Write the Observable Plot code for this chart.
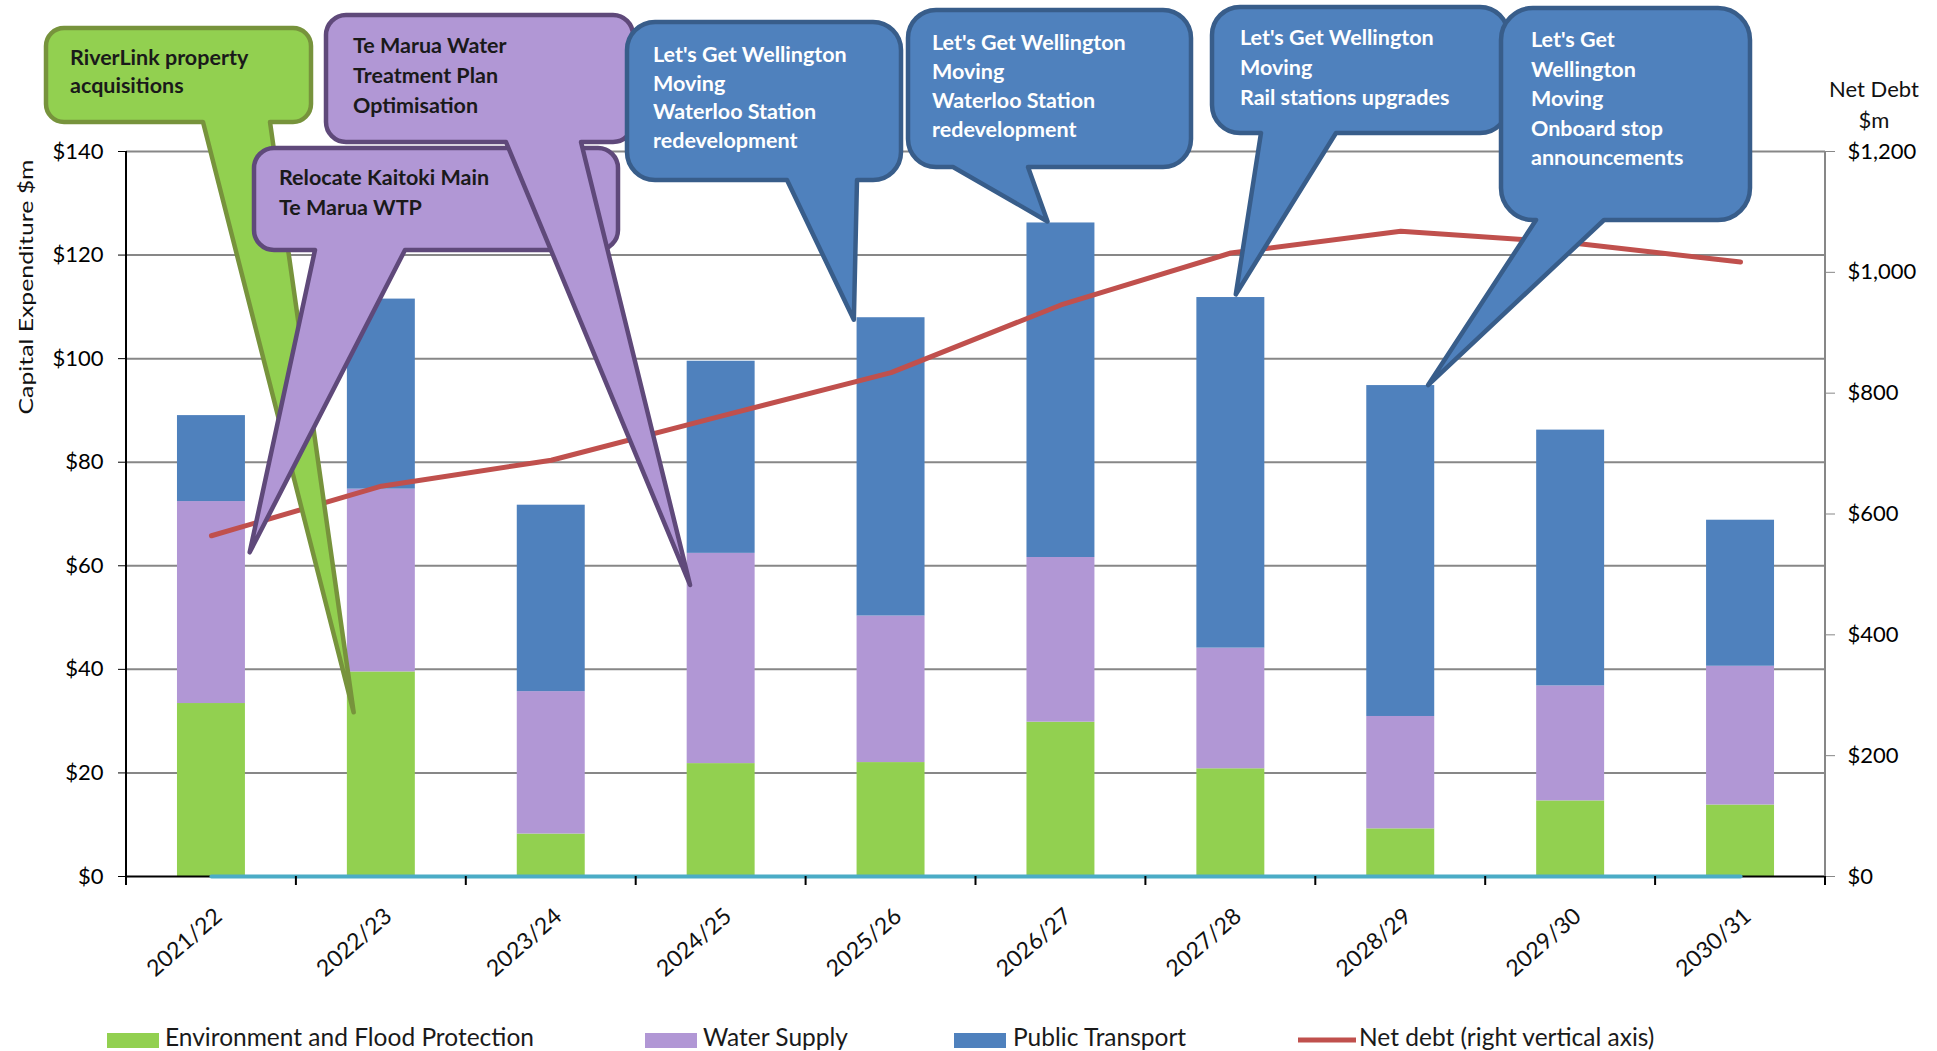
<!DOCTYPE html>
<html>
<head>
<meta charset="utf-8">
<script src="https://cdn.jsdelivr.net/npm/d3@7"></script>
<script src="https://cdn.jsdelivr.net/npm/@observablehq/plot@0.6"></script>
<style>
  html, body { margin: 0; padding: 0; background: #fff; }
  #wrap { position: relative; width: 1937px; height: 1051px; overflow: hidden; }
  #wrap svg { display: block; }
</style>
</head>
<body>
<div id="wrap"></div>
<script>
// ---------- data ----------
const categories = ["2021/22", "2022/23", "2023/24", "2024/25", "2025/26", "2026/27", "2027/28", "2028/29", "2029/30", "2030/31"];
const environment = [33.4, 39.5, 8.2, 21.8, 22.0, 29.8, 20.8, 9.2, 14.6, 13.8];
const waterSupply = [39.0, 35.3, 27.5, 40.6, 28.3, 31.8, 23.3, 21.7, 22.2, 26.8];
const publicTransport = [16.6, 36.7, 36.0, 37.1, 57.6, 64.6, 67.7, 63.9, 49.4, 28.2];
const netDebt = [564, 646, 689, 762, 834, 946, 1032, 1068, 1049, 1017];
const zeroSeries = [0, 0, 0, 0, 0, 0, 0, 0, 0, 0];
const leftTicks = [0, 20, 40, 60, 80, 100, 120, 140];
const debtTicks = [0, 200, 400, 600, 800, 1000, 1200];
const seriesNames = ["Environment and Flood Protection", "Water Supply", "Public Transport"];
const lineName = "Net debt (right vertical axis)";
const yTitle = "Capital Expenditure $m";
const y2Title = ["Net Debt", "$m"];

// callout texts and the data points they point at
const calloutTexts = [
  ["RiverLink property", "acquisitions"],
  ["Relocate Kaitoki Main", "Te Marua WTP"],
  ["Te Marua Water", "Treatment Plan", "Optimisation"],
  ["Let's Get Wellington", "Moving", "Waterloo Station", "redevelopment"],
  ["Let's Get Wellington", "Moving", "Waterloo Station", "redevelopment"],
  ["Let's Get Wellington", "Moving", "Rail stations upgrades"],
  ["Let's Get", "Wellington", "Moving", "Onboard stop", "announcements"]
];
const calloutYears = ["2022/23", "2021/22", "2024/25", "2025/26", "2026/27", "2027/28", "2028/29"];
const calloutValues = [31.6, 62.5, 56.2, 107.4, 126.4, 112.3, 94.8];

// ---------- styles / layout ----------
const seriesColors = ["#92D050", "#B197D5", "#4F81BD"];
const lineColor = "#C0504D";
const zeroColor = "#4BACC6";
const W = 1937, H = 1010;
const FONT = "Lato, 'Open Sans', sans-serif";

// callout layout: box [x0,y0,x1,y1], radius, pointer base [b0,b1], tip position across the bar (0=left edge,1=right edge)
const calloutLayout = [
  {box: [46, 28, 311, 122], r: 18, base: [203, 270], u: 0.10, fill: "#92D050", stroke: "#77933C", text: "#1a1a1a", tx: 70, ty: 65, lh: 28},
  {box: [254, 148, 618, 250], r: 20, base: [315, 405], u: 1.07, fill: "#B197D5", stroke: "#5F497A", text: "#1a1a1a", tx: 279, ty: 185, lh: 30},
  {box: [326, 15, 633, 142], r: 20, base: [506, 581], u: 0.05, fill: "#B197D5", stroke: "#5F497A", text: "#1a1a1a", tx: 353, ty: 53, lh: 30},
  {box: [627, 22, 901, 180], r: 28, base: [787, 857], u: -0.04, fill: "#4F81BD", stroke: "#385D8A", text: "#ffffff", tx: 653, ty: 62, lh: 28.7},
  {box: [908, 10, 1191, 167], r: 28, base: [953, 1028], u: 0.31, fill: "#4F81BD", stroke: "#385D8A", text: "#ffffff", tx: 932, ty: 50, lh: 29},
  {box: [1212, 7, 1508, 133], r: 28, base: [1261, 1336], u: 0.58, fill: "#4F81BD", stroke: "#385D8A", text: "#ffffff", tx: 1240, ty: 45, lh: 30},
  {box: [1501, 8, 1750, 220], r: 32, base: [1536, 1604], u: 0.91, fill: "#4F81BD", stroke: "#385D8A", text: "#ffffff", tx: 1531, ty: 47, lh: 29.5}
];

// ---------- tables ----------
const barTable = [];
categories.forEach((c, i) => {
  barTable.push({year: c, series: seriesNames[0], value: environment[i]});
  barTable.push({year: c, series: seriesNames[1], value: waterSupply[i]});
  barTable.push({year: c, series: seriesNames[2], value: publicTransport[i]});
});
const lineTable = categories.map((c, i) => ({year: c, debt: netDebt[i], zero: zeroSeries[i]}));
const yMax = 140, debtMax = 1200;
const toLeft = v => v * yMax / debtMax;

const chart = Plot.plot({
  width: W,
  height: H,
  marginLeft: 126,
  marginRight: 112,
  marginTop: 151,
  marginBottom: 134,
  style: {fontFamily: FONT, fontSize: "22px", color: "#000", background: "#fff"},
  x: {domain: categories, paddingInner: 0.6, paddingOuter: 0.3, round: false, axis: null, label: null},
  y: {domain: [0, yMax], axis: null, label: null},
  color: {domain: seriesNames, range: seriesColors},
  marks: [
    Plot.gridY(leftTicks.filter(d => d > 0), {stroke: "#878787", strokeOpacity: 1, strokeWidth: 2}),
    Plot.barY(barTable, {x: "year", y: "value", fill: "series", order: seriesNames}),
    Plot.ruleY([0], {stroke: "#000", strokeWidth: 2}),
    Plot.line(lineTable, {x: "year", y: d => toLeft(d.debt), stroke: lineColor, strokeWidth: 5}),
    Plot.line(lineTable, {x: "year", y: "zero", stroke: zeroColor, strokeWidth: 4}),
    Plot.axisY(leftTicks, {anchor: "left", tickFormat: d => "$" + d, tickSize: 8, tickPadding: 15, stroke: "#000", fill: "#000", fontSize: 22, label: null}),
    Plot.axisY(debtTicks.map(toLeft), {anchor: "right", tickFormat: d => "$" + d3.format(",")(Math.round(d * debtMax / yMax)), tickSize: 9, tickPadding: 13, stroke: "#878787", fill: "#000", fontSize: 22, label: null}),
    Plot.text(categories, {x: d => d, frameAnchor: "bottom", dy: 42, dx: 12, rotate: -41, textAnchor: "end", fontSize: 23, fill: "#111"})
  ]
});

document.getElementById("wrap").appendChild(chart);

// ---------- extras drawn with the plot's own scales ----------
const svg = d3.select(chart);
const xs = chart.scale("x"), ys = chart.scale("y");
const n = categories.length;
const step = xs.step || (xs.range[1] - xs.range[0]) / (n - xs.paddingInner + 2 * xs.paddingOuter);
const bw = xs.bandwidth || step * (1 - xs.paddingInner);
const gapHalf = (step - bw) / 2;
const y0 = ys.apply(0), yTop = ys.apply(yMax);
const xLeft = xs.range[0], xRight = xs.range[1];

const extra = svg.append("g");
// axis lines
extra.append("line").attr("x1", xLeft).attr("x2", xLeft).attr("y1", yTop).attr("y2", y0 + 1).attr("stroke", "#000").attr("stroke-width", 2);
extra.append("line").attr("x1", xRight).attr("x2", xRight).attr("y1", yTop).attr("y2", y0 + 1).attr("stroke", "#878787").attr("stroke-width", 2);
// category boundary ticks on the x axis
const bounds = categories.map(c => xs.apply(c) - gapHalf);
bounds.push(xs.apply(categories[n - 1]) + bw + gapHalf);
bounds.forEach(bx => {
  extra.append("line").attr("x1", bx).attr("x2", bx).attr("y1", y0).attr("y2", y0 + 9).attr("stroke", "#000").attr("stroke-width", 2);
});
// axis titles
extra.append("text").attr("transform", `translate(26,${287})rotate(-90)`)
  .attr("text-anchor", "middle").attr("dy", "0.35em")
  .attr("font-family", FONT).attr("font-size", 19).attr("fill", "#111")
  .attr("textLength", 255).attr("lengthAdjust", "spacingAndGlyphs")
  .text(yTitle);
y2Title.forEach((t, i) => {
  extra.append("text").attr("x", 1874).attr("y", 97 + i * 31).attr("text-anchor", "middle")
    .attr("font-family", FONT).attr("font-size", 22).attr("fill", "#111").text(t);
});

// callouts
function calloutPath(b, r, base, tx, ty) {
  const [x0, y0c, x1, y1] = b;
  return `M${x0 + r},${y0c} H${x1 - r} A${r},${r} 0 0 1 ${x1},${y0c + r} V${y1 - r} A${r},${r} 0 0 1 ${x1 - r},${y1} ` +
    `H${base[1]} L${tx},${ty} L${base[0]},${y1} H${x0 + r} A${r},${r} 0 0 1 ${x0},${y1 - r} V${y0c + r} A${r},${r} 0 0 1 ${x0 + r},${y0c} Z`;
}
const cg = svg.append("g").attr("text-anchor", "start");
calloutLayout.forEach((L, k) => {
  const tipX = xs.apply(calloutYears[k]) + L.u * bw;
  const tipY = ys.apply(calloutValues[k]);
  const g = cg.append("g");
  g.append("path").attr("d", calloutPath(L.box, L.r, L.base, tipX, tipY))
    .attr("fill", L.fill).attr("stroke", L.stroke).attr("stroke-width", 4.5).attr("stroke-linejoin", "round");
  calloutTexts[k].forEach((t, i) => {
    g.append("text").attr("x", L.tx).attr("y", L.ty + i * L.lh).attr("text-anchor", "start")
      .attr("font-family", FONT).attr("font-weight", 700).attr("font-size", 21.5).attr("fill", L.text).text(t);
  });
});

// ---------- legend below the plot ----------
const leg = d3.select("#wrap").append("svg").attr("width", W).attr("height", 41);
const legItems = [
  {label: seriesNames[0], color: seriesColors[0], sx: 107, tx: 165, kind: "rect"},
  {label: seriesNames[1], color: seriesColors[1], sx: 645, tx: 703, kind: "rect"},
  {label: seriesNames[2], color: seriesColors[2], sx: 954, tx: 1013, kind: "rect"},
  {label: lineName, color: lineColor, sx: 1298, tx: 1359, kind: "line"}
];
legItems.forEach(it => {
  if (it.kind === "rect") {
    leg.append("rect").attr("x", it.sx).attr("y", 23).attr("width", 52).attr("height", 15).attr("fill", it.color);
  } else {
    leg.append("line").attr("x1", it.sx).attr("x2", it.sx + 58).attr("y1", 30).attr("y2", 30).attr("stroke", it.color).attr("stroke-width", 5);
  }
  leg.append("text").attr("x", it.tx).attr("y", 36).attr("text-anchor", "start").attr("font-family", FONT).attr("font-size", 24.5).attr("fill", "#1a1a1a").text(it.label);
});
</script>
</body>
</html>
